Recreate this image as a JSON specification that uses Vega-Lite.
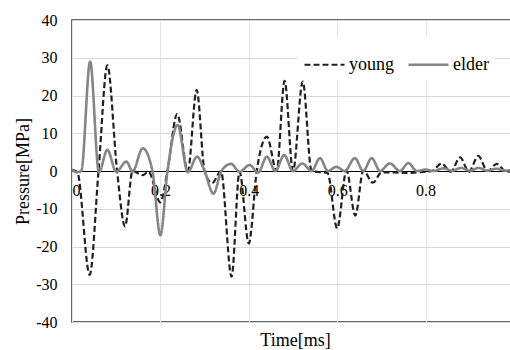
{
  "$schema": "https://vega.github.io/schema/vega-lite/v6.json",
  "width": 442,
  "height": 302,
  "autosize": {"type": "none"},
  "padding": {"left": 72, "top": 20, "right": 0, "bottom": 28},
  "background": "white",
  "config": {
    "font": "Liberation Serif",
    "view": {"stroke": "#333333", "strokeWidth": 1.5}
  },
  "datasets": {
    "curves": [
      {"t": 0, "p": 0.3, "series": "young"},
      {"t": 0.012, "p": -0.3, "series": "young"},
      {"t": 0.040, "p": -27.5, "series": "young"},
      {"t": 0.060, "p": 0, "series": "young"},
      {"t": 0.080, "p": 28.0, "series": "young"},
      {"t": 0.102, "p": 0, "series": "young"},
      {"t": 0.120, "p": -14.7, "series": "young"},
      {"t": 0.137, "p": 0, "series": "young"},
      {"t": 0.160, "p": -1.1, "series": "young"},
      {"t": 0.173, "p": -0.2, "series": "young"},
      {"t": 0.200, "p": -8.3, "series": "young"},
      {"t": 0.216, "p": 0, "series": "young"},
      {"t": 0.238, "p": 15.1, "series": "young"},
      {"t": 0.262, "p": 0, "series": "young"},
      {"t": 0.282, "p": 21.5, "series": "young"},
      {"t": 0.300, "p": 0, "series": "young"},
      {"t": 0.317, "p": -3.2, "series": "young"},
      {"t": 0.337, "p": -0.1, "series": "young"},
      {"t": 0.361, "p": -28.0, "series": "young"},
      {"t": 0.379, "p": -0.2, "series": "young"},
      {"t": 0.400, "p": -19.2, "series": "young"},
      {"t": 0.418, "p": 0, "series": "young"},
      {"t": 0.441, "p": 9.1, "series": "young"},
      {"t": 0.463, "p": 0, "series": "young"},
      {"t": 0.481, "p": 23.9, "series": "young"},
      {"t": 0.500, "p": 0, "series": "young"},
      {"t": 0.522, "p": 23.7, "series": "young"},
      {"t": 0.542, "p": 0, "series": "young"},
      {"t": 0.560, "p": -0.3, "series": "young"},
      {"t": 0.578, "p": -0.5, "series": "young"},
      {"t": 0.600, "p": -15.2, "series": "young"},
      {"t": 0.621, "p": 0.1, "series": "young"},
      {"t": 0.641, "p": -11.8, "series": "young"},
      {"t": 0.659, "p": 0.1, "series": "young"},
      {"t": 0.681, "p": -3.1, "series": "young"},
      {"t": 0.700, "p": -0.4, "series": "young"},
      {"t": 0.730, "p": -0.4, "series": "young"},
      {"t": 0.760, "p": -0.5, "series": "young"},
      {"t": 0.790, "p": -0.3, "series": "young"},
      {"t": 0.815, "p": 0, "series": "young"},
      {"t": 0.836, "p": 2.0, "series": "young"},
      {"t": 0.857, "p": -0.2, "series": "young"},
      {"t": 0.878, "p": 3.6, "series": "young"},
      {"t": 0.898, "p": -0.2, "series": "young"},
      {"t": 0.919, "p": 4.0, "series": "young"},
      {"t": 0.940, "p": 0, "series": "young"},
      {"t": 0.961, "p": 1.9, "series": "young"},
      {"t": 0.982, "p": -0.2, "series": "young"},
      {"t": 1.0, "p": 0, "series": "young"},
      {"t": 0, "p": 0.3, "series": "elder"},
      {"t": 0.010, "p": -0.3, "series": "elder"},
      {"t": 0.021, "p": 0, "series": "elder"},
      {"t": 0.041, "p": 29.0, "series": "elder"},
      {"t": 0.061, "p": -0.3, "series": "elder"},
      {"t": 0.080, "p": 5.6, "series": "elder"},
      {"t": 0.100, "p": -0.2, "series": "elder"},
      {"t": 0.123, "p": 2.5, "series": "elder"},
      {"t": 0.137, "p": -0.1, "series": "elder"},
      {"t": 0.160, "p": 6.0, "series": "elder"},
      {"t": 0.182, "p": 0, "series": "elder"},
      {"t": 0.200, "p": -17.0, "series": "elder"},
      {"t": 0.216, "p": 0, "series": "elder"},
      {"t": 0.239, "p": 12.2, "series": "elder"},
      {"t": 0.262, "p": -0.3, "series": "elder"},
      {"t": 0.283, "p": 3.8, "series": "elder"},
      {"t": 0.300, "p": 0, "series": "elder"},
      {"t": 0.320, "p": -6.0, "series": "elder"},
      {"t": 0.338, "p": 0, "series": "elder"},
      {"t": 0.360, "p": 1.9, "series": "elder"},
      {"t": 0.379, "p": -0.2, "series": "elder"},
      {"t": 0.402, "p": 1.6, "series": "elder"},
      {"t": 0.421, "p": -0.4, "series": "elder"},
      {"t": 0.441, "p": 3.8, "series": "elder"},
      {"t": 0.460, "p": 0, "series": "elder"},
      {"t": 0.480, "p": 4.2, "series": "elder"},
      {"t": 0.500, "p": 0, "series": "elder"},
      {"t": 0.521, "p": 2.0, "series": "elder"},
      {"t": 0.542, "p": 0, "series": "elder"},
      {"t": 0.561, "p": 3.4, "series": "elder"},
      {"t": 0.579, "p": 0, "series": "elder"},
      {"t": 0.598, "p": 1.1, "series": "elder"},
      {"t": 0.617, "p": 0, "series": "elder"},
      {"t": 0.640, "p": 3.4, "series": "elder"},
      {"t": 0.659, "p": 0, "series": "elder"},
      {"t": 0.678, "p": 3.4, "series": "elder"},
      {"t": 0.697, "p": 0, "series": "elder"},
      {"t": 0.719, "p": 2.0, "series": "elder"},
      {"t": 0.742, "p": 0, "series": "elder"},
      {"t": 0.761, "p": 2.1, "series": "elder"},
      {"t": 0.780, "p": 0, "series": "elder"},
      {"t": 0.800, "p": 0.4, "series": "elder"},
      {"t": 0.818, "p": 0, "series": "elder"},
      {"t": 0.840, "p": 0.7, "series": "elder"},
      {"t": 0.860, "p": 0.1, "series": "elder"},
      {"t": 0.880, "p": 0.8, "series": "elder"},
      {"t": 0.900, "p": 0.1, "series": "elder"},
      {"t": 0.920, "p": 0.8, "series": "elder"},
      {"t": 0.940, "p": 0.1, "series": "elder"},
      {"t": 0.960, "p": 0.6, "series": "elder"},
      {"t": 0.980, "p": 0.1, "series": "elder"},
      {"t": 1.0, "p": 0.4, "series": "elder"}
    ]
  },
  "data": {"name": "curves"},
  "encoding": {
    "y": {
      "field": "p",
      "type": "quantitative",
      "scale": {"domain": [-40, 40], "nice": false},
      "axis": {
        "values": [-40, -30, -20, -10, 0, 10, 20, 30, 40],
        "labelExpr": "toString(datum.value)",
        "domain": false,
        "ticks": false,
        "tickSize": 0,
        "labelPadding": 15,
        "labelFontSize": 16,
        "labelColor": "#000000",
        "grid": true,
        "gridColor": "#d9d9d9",
        "gridWidth": 1,
        "title": "Pressure[MPa]",
        "titleFontSize": 18,
        "titleFontWeight": "normal",
        "titleColor": "#000000",
        "titleAngle": -90,
        "titleX": -49,
        "titleY": 151,
        "titleAlign": "center",
        "titleBaseline": "middle"
      }
    }
  },
  "layer": [
    {
      "mark": {"type": "line", "interpolate": "monotone"},
      "encoding": {
        "x": {
          "field": "t",
          "type": "quantitative",
          "scale": {"domain": [0, 1], "nice": false, "zero": false},
          "axis": {
            "values": [0, 0.2, 0.4, 0.6, 0.8],
            "labels": false,
            "domain": false,
            "ticks": false,
            "tickSize": 0,
            "grid": true,
            "gridColor": "#e6e6e6",
            "title": "Time[ms]",
            "titleFontSize": 18,
            "titleFontWeight": "normal",
            "titleColor": "#000000",
            "titleX": 223,
            "titleY": 23,
            "titleAlign": "center",
            "titleBaseline": "alphabetic"
          }
        },
        "color": {
          "field": "series",
          "type": "nominal",
          "scale": {"domain": ["young", "elder"], "range": ["#202020", "#858585"]},
          "legend": {
            "title": null,
            "orient": "none",
            "legendX": 225,
            "legendY": 17,
            "direction": "horizontal",
            "symbolType": "stroke",
            "symbolSize": 1600,
            "symbolStrokeWidth": 2.2,
            "labelFontSize": 18,
            "labelColor": "#000000",
            "labelOffset": 3,
            "columnPadding": 9,
            "padding": 6,
            "fillColor": "white"
          }
        },
        "strokeDash": {
          "field": "series",
          "type": "nominal",
          "scale": {"domain": ["young", "elder"], "range": [[6, 3], [1, 0]]},
          "legend": {
            "title": null,
            "orient": "none",
            "legendX": 225,
            "legendY": 17,
            "direction": "horizontal",
            "symbolType": "stroke",
            "symbolSize": 1600,
            "symbolStrokeWidth": 2.2,
            "labelFontSize": 18,
            "labelColor": "#000000",
            "labelOffset": 3,
            "columnPadding": 9,
            "padding": 6,
            "fillColor": "white"
          }
        },
        "strokeWidth": {
          "field": "series",
          "type": "nominal",
          "scale": {"domain": ["young", "elder"], "range": [2.2, 2.6]},
          "legend": null
        }
      }
    },
    {
      "mark": {"type": "point", "opacity": 0},
      "encoding": {
        "x": {
          "field": "t",
          "type": "quantitative",
          "scale": {"domain": [0, 1], "nice": false, "zero": false},
          "axis": {
            "orient": "bottom",
            "offset": -151,
            "values": [0, 0.2, 0.4, 0.6, 0.8],
            "format": "~g",
            "domain": true,
            "domainColor": "#000000",
            "domainWidth": 1,
            "ticks": false,
            "tickSize": 0,
            "grid": false,
            "labelPadding": 11,
            "labelFontSize": 16,
            "labelColor": "#000000",
            "title": null
          }
        }
      }
    }
  ],
  "resolve": {"axis": {"x": "independent"}}
}
